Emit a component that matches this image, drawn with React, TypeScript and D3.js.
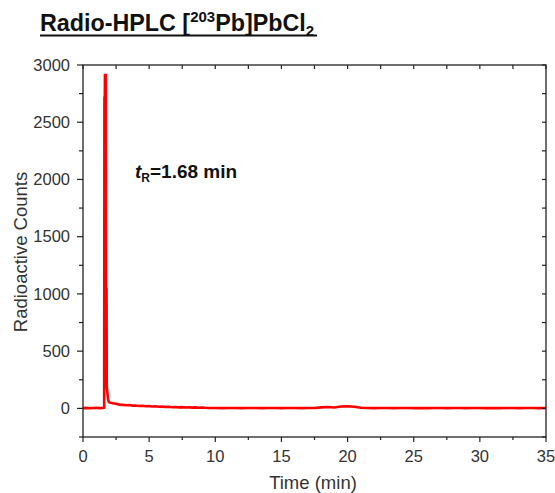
import React from "react";
import * as d3 from "d3";

const timeMin = [
  0, 0.25, 0.5, 0.75, 1.0, 1.25, 1.5, 1.6,
  1.62, 1.65, 1.66, 1.72, 1.74, 1.78, 1.8, 1.84, 1.9, 1.95,
  2.0, 2.25, 2.5, 2.75, 3.0, 3.25, 3.5, 3.75, 4.0, 4.25, 4.5, 4.75, 5.0, 5.25, 5.5, 5.75,
  6.0, 6.25, 6.5, 6.75, 7.0, 7.25, 7.5, 7.75, 8.0, 8.25, 8.5, 8.75, 9.0, 9.25, 9.5, 9.75, 10,
  10.5, 11, 11.5, 12, 12.5, 13, 13.5, 14, 14.5, 15, 15.5, 16, 16.5, 17, 17.5, 18, 18.5, 19,
  19.5, 20, 20.5, 21, 21.5, 22, 22.5, 23, 23.5, 24, 24.5, 25, 25.5, 26, 26.5, 27, 27.5, 28,
  28.5, 29, 29.5, 30, 30.5, 31, 31.5, 32, 32.5, 33, 33.5, 34, 34.5, 35,
];
const counts = [
  2, 4, 1, 3, 5, 2, 4, 6,
  2714, 2714, 2912, 2912, 1040, 1040, 186, 140, 75, 58,
  52, 44, 40, 33, 31, 27, 29, 24, 25, 21, 23, 19, 20, 16, 18, 14,
  15, 12, 14, 10, 12, 9, 11, 8, 10, 7, 9, 6, 8, 5, 4, 3, 4,
  2, 4, 3, 2, 4, 3, 2, 4, 3, 2, 3, 4, 2, 3, 4, 9, 12, 8,
  17, 18, 14, 5, 3, 2, 4, 3, 2, 3, 4, 2, 3, 2, 4, 3, 2, 4,
  3, 2, 3, 4, 2, 3, 2, 4, 3, 2, 3, 4, 2, 3,
];
const xTicks = [0, 5, 10, 15, 20, 25, 30, 35];
const xMinorTicks = [2.5, 7.5, 12.5, 17.5, 22.5, 27.5, 32.5];
const yTicks = [0, 500, 1000, 1500, 2000, 2500, 3000];
const yMinorTicks = [-250, 250, 750, 1250, 1750, 2250, 2750];

const W = 555;
const H = 493;
const L = 83, R = 546, T = 65, B = 437;
const FONT = "'Liberation Sans', Arial, sans-serif";
const AX = "#222";

export default function App() {
  const x = d3.scaleLinear().domain([0, 35]).range([L, R]);
  const y = d3.scaleLinear().domain([-250, 3000]).range([B, T]);
  const data = timeMin.map((t, i) => [t, counts[i]] as [number, number]);
  const line = d3.line<[number, number]>().x((d) => x(d[0])).y((d) => y(d[1]));
  const allX = [...xTicks, ...xMinorTicks];
  const allY = [...yTicks, ...yMinorTicks];

  return (
    <svg width={W} height={H} style={{ position: "absolute", left: 0, top: 0, background: "#fff" }} fontFamily={FONT}>
      {/* title */}
      <text x={40} y={31} fontSize={23.3} fontWeight="bold" fill="#111">
        <tspan>Radio-HPLC [</tspan>
        <tspan fontSize={15} dy={-9}>203</tspan>
        <tspan dy={9}>Pb]PbCl</tspan>
        <tspan fontSize={15} dy={5}>2</tspan>
      </text>
      <line x1={40} x2={317} y1={35.5} y2={35.5} stroke="#111" strokeWidth={2} />

      {/* data */}
      <path d={line(data) || ""} fill="none" stroke="#ff0000" strokeWidth={2.6} strokeLinejoin="miter" />

      {/* frame */}
      <rect x={L} y={T} width={R - L} height={B - T} fill="none" stroke={AX} strokeWidth={1.3} />

      {/* bottom ticks */}
      {xTicks.map((v) => (
        <line key={"xb" + v} x1={x(v)} x2={x(v)} y1={B} y2={B + 5} stroke={AX} strokeWidth={1.2} />
      ))}
      {xMinorTicks.map((v) => (
        <line key={"xbm" + v} x1={x(v)} x2={x(v)} y1={B} y2={B + 3} stroke={AX} strokeWidth={1.2} />
      ))}
      {/* top ticks inward */}
      {allX.map((v) => (
        <line key={"xt" + v} x1={x(v)} x2={x(v)} y1={T} y2={T + 4} stroke={AX} strokeWidth={1.2} />
      ))}
      {/* left ticks */}
      {yTicks.map((v) => (
        <line key={"yl" + v} x1={L - 6} x2={L} y1={y(v)} y2={y(v)} stroke={AX} strokeWidth={1.2} />
      ))}
      {yMinorTicks.map((v) => (
        <line key={"ylm" + v} x1={L - 4} x2={L} y1={y(v)} y2={y(v)} stroke={AX} strokeWidth={1.2} />
      ))}
      {/* right ticks inward */}
      {allY.map((v) => (
        <line key={"yr" + v} x1={R - 4} x2={R} y1={y(v)} y2={y(v)} stroke={AX} strokeWidth={1.2} />
      ))}

      {/* tick labels */}
      {xTicks.map((v) => (
        <text key={"xl" + v} x={x(v)} y={462} textAnchor="middle" fontSize={16.5} fill="#333">
          {v}
        </text>
      ))}
      {yTicks.map((v) => (
        <text key={"ylb" + v} x={70} y={y(v)} dy="0.35em" textAnchor="end" fontSize={16.5} fill="#333">
          {v}
        </text>
      ))}

      {/* axis titles */}
      <text x={313} y={489} textAnchor="middle" fontSize={18.5} fill="#333">
        Time (min)
      </text>
      <text transform={`translate(27,252) rotate(-90)`} textAnchor="middle" fontSize={18.5} fill="#333">
        Radioactive Counts
      </text>

      {/* annotation */}
      <text x={135} y={178} fontSize={19} fontWeight="bold" fill="#111">
        <tspan fontStyle="italic">t</tspan>
        <tspan fontSize={12} dy={4}>R</tspan>
        <tspan dy={-4}>=1.68 min</tspan>
      </text>
    </svg>
  );
}
